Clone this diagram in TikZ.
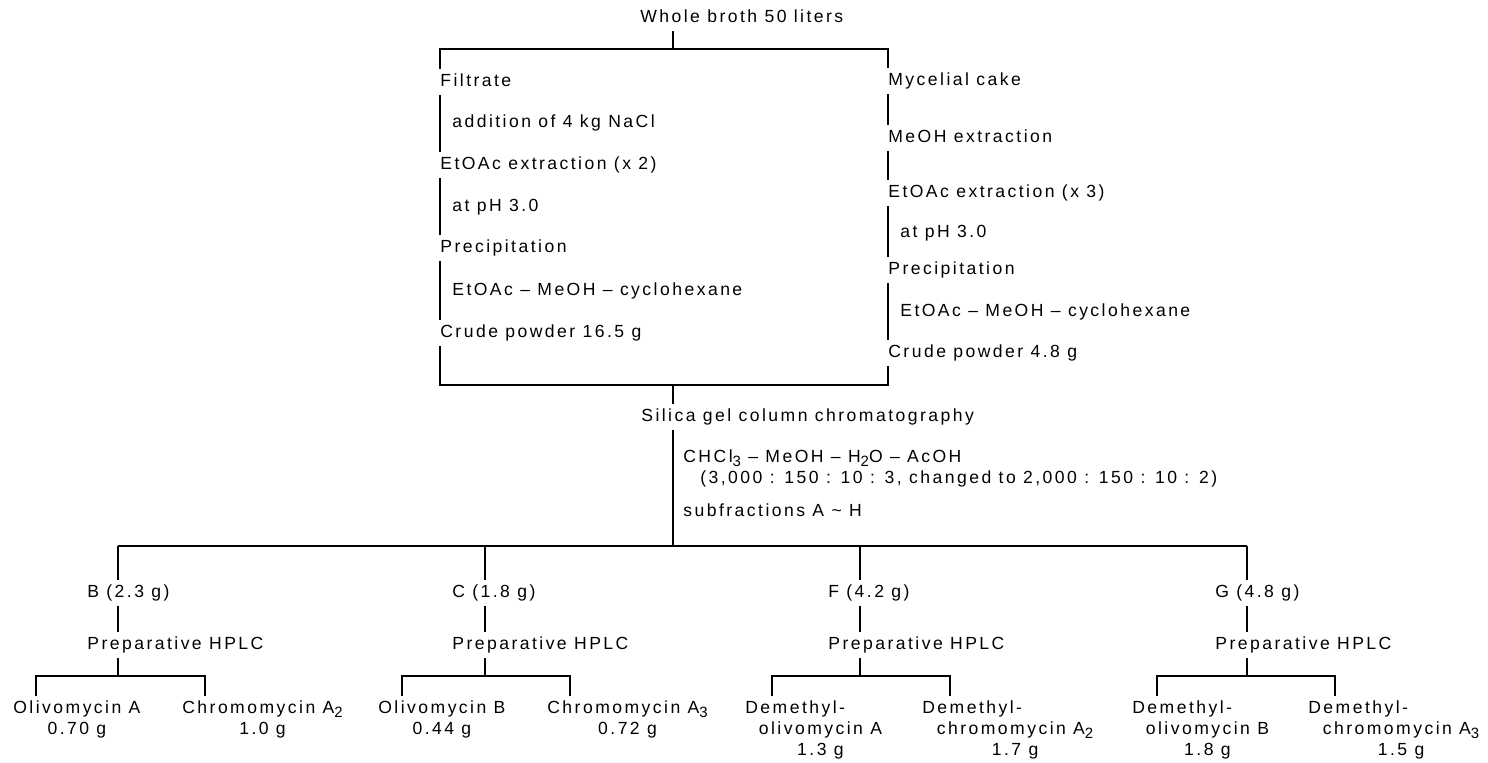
\documentclass[tikz,border=0pt]{standalone}
\usepackage{fontspec}
\newfontfamily\flowfont{Liberation Sans}[LetterSpace=14]
\usetikzlibrary{calc}

%% lowered index figure, as in CHCl3 or A2
\newcommand{\lowsub}[1]{\raisebox{-0.5ex}{\fontsize{8.5}{8.5}\selectfont #1}}
%% a centred name/amount pair, used under the "Demethyl-" prefix
\newcommand{\namepair}[2]{\begin{tabular}[t]{@{}c@{}}#1\\#2\end{tabular}}

\tikzset{
  stage/.style={anchor=west, inner xsep=0pt, inner ysep=3pt, text height=1.6ex, text depth=0.4ex},
  cond/.style={anchor=west, inner sep=0pt},
  yield/.style={anchor=north west, inner sep=0pt, align=center},
  link/.style={line width=1pt},
}

\begin{document}
\begin{tikzpicture}[x=0.02cm, y=-0.02cm, font=\flowfont\fontsize{10}{12}\selectfont]
\useasboundingbox (0,0) rectangle (1488,762);

%% Broth and the two work-ups
    \node[stage] (whole) at (640,18) {Whole broth 50 liters};
    \coordinate (split) at (673,49);

    \node[stage] (filtrate) at (440,82) {Filtrate};
    \node[cond] (condL1) at (452,123) {addition of 4 kg NaCl};
    \node[stage] (etoacL) at (440,165) {EtOAc extraction (x 2)};
    \node[cond] (condL2) at (452,207) {at pH 3.0};
    \node[stage] (precL) at (440,248) {Precipitation};
    \node[cond] (condL3) at (452,291) {EtOAc – MeOH – cyclohexane};
    \node[stage] (crudeL) at (440,333) {Crude powder 16.5 g};

    \node[stage] (mycel) at (888,81) {Mycelial cake};
    \node[stage] (meoh) at (888,138) {MeOH extraction};
    \node[stage] (etoacR) at (888,193) {EtOAc extraction (x 3)};
    \node[cond] (condR1) at (900,233) {at pH 3.0};
    \node[stage] (precR) at (888,270) {Precipitation};
    \node[cond] (condR2) at (900,312) {EtOAc – MeOH – cyclohexane};
    \node[stage] (crudeR) at (888,353) {Crude powder 4.8 g};

    \draw[link] (whole.south -| split) -- (split);
    \draw[link] (filtrate.north west) |- (split) -| (mycel.north west);
    \draw[link] (filtrate.south west) -- (etoacL.north west);
    \draw[link] (etoacL.south west) -- (precL.north west);
    \draw[link] (precL.south west) -- (crudeL.north west);
    \draw[link] (mycel.south west) -- (meoh.north west);
    \draw[link] (meoh.south west) -- (etoacR.north west);
    \draw[link] (etoacR.south west) -- (precR.north west);
    \draw[link] (precR.south west) -- (crudeR.north west);

%% Combined crude powders onto the silica column
    \coordinate (merge) at (673,385);
    \coordinate (fan) at (673,546);
    \node[stage] (silica) at (641,417) {Silica gel column chromatography};
    \node[cond, align=left] (eluent) at (683,468) {CHCl\lowsub{3} – MeOH – H\lowsub{2}O – AcOH\\\hspace*{0.34cm}(3,000 : 150 : 10 : 3, changed to 2,000 : 150 : 10 : 2)};
    \node[cond] (subfr) at (683,510) {subfractions A \textasciitilde{} H};

    \draw[link] (crudeL.south west) |- (merge) -| (crudeR.south west);
    \draw[link] (merge) -- (merge |- silica.north);
    \draw[link] (silica.south -| fan) -- (fan);

%% Subfractions
    \coordinate (colB) at (118,546);
    \coordinate (colC) at (485,546);
    \coordinate (colF) at (860,546);
    \coordinate (colG) at (1247,546);

    \node[stage] (fracB) at (87,593) {B (2.3 g)};
    \node[stage] (fracC) at (452,593) {C (1.8 g)};
    \node[stage] (fracF) at (828,593) {F (4.2 g)};
    \node[stage] (fracG) at (1215,593) {G (4.8 g)};
    \node[stage] (hplcB) at (87,645) {Preparative HPLC};
    \node[stage] (hplcC) at (452,645) {Preparative HPLC};
    \node[stage] (hplcF) at (828,645) {Preparative HPLC};
    \node[stage] (hplcG) at (1215,645) {Preparative HPLC};

    \draw[link] (colB) -- (colG);
    \draw[link] (colB) -- (colB |- fracB.north);
    \draw[link] (colC) -- (colC |- fracC.north);
    \draw[link] (colF) -- (colF |- fracF.north);
    \draw[link] (colG) -- (colG |- fracG.north);
    \draw[link] (fracB.south -| colB) -- (hplcB.north -| colB);
    \draw[link] (fracC.south -| colC) -- (hplcC.north -| colC);
    \draw[link] (fracF.south -| colF) -- (hplcF.north -| colF);
    \draw[link] (fracG.south -| colG) -- (hplcG.north -| colG);
    \draw[link] (hplcB.south -| colB) -- ++(0,18) coordinate (splitB);
    \draw[link] (hplcC.south -| colC) -- ++(0,18) coordinate (splitC);
    \draw[link] (hplcF.south -| colF) -- ++(0,18) coordinate (splitF);
    \draw[link] (hplcG.south -| colG) -- ++(0,18) coordinate (splitG);

%% Pure compounds
    \node[yield] (olivA) at (13,700) {Olivomycin A\\0.70 g};
    \node[yield] (chromA2) at (182,700) {Chromomycin A\lowsub{2}\\1.0 g};
    \node[yield] (olivB) at (378,700) {Olivomycin B\\0.44 g};
    \node[yield] (chromA3) at (547,700) {Chromomycin A\lowsub{3}\\0.72 g};
    \node[yield, align=left] (dmolivA) at (745,700) {Demethyl-\\\hspace*{0.27cm}\namepair{olivomycin A}{1.3 g}};
    \node[yield, align=left] (dmchromA2) at (922,700) {Demethyl-\\\hspace*{0.29cm}\namepair{chromomycin A\lowsub{2}}{1.7 g}};
    \node[yield, align=left] (dmolivB) at (1132,700) {Demethyl-\\\hspace*{0.27cm}\namepair{olivomycin B}{1.8 g}};
    \node[yield, align=left] (dmchromA3) at (1308,700) {Demethyl-\\\hspace*{0.29cm}\namepair{chromomycin A\lowsub{3}}{1.5 g}};

    \draw[link] ($(olivA.north west)+(23,-4)$) |- (splitB) -| ($(chromA2.north west)+(23,-4)$);
    \draw[link] ($(olivB.north west)+(24,-4)$) |- (splitC) -| ($(chromA3.north west)+(23,-4)$);
    \draw[link] ($(dmolivA.north west)+(27,-4)$) |- (splitF) -| ($(dmchromA2.north west)+(28,-4)$);
    \draw[link] ($(dmolivB.north west)+(25,-4)$) |- (splitG) -| ($(dmchromA3.north west)+(27,-4)$);

\end{tikzpicture}
\end{document}
